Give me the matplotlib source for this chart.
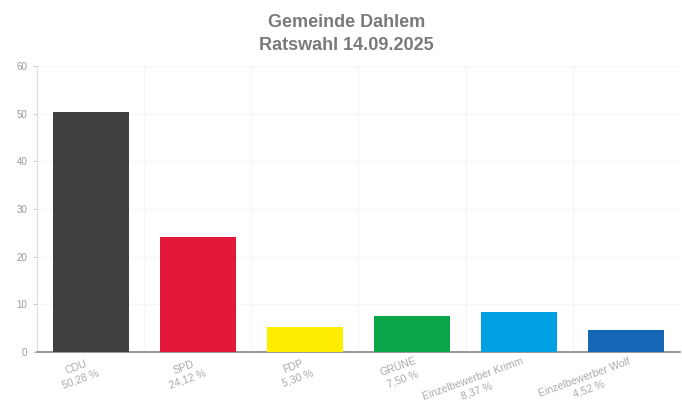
import matplotlib
matplotlib.use("Agg")
import matplotlib.pyplot as plt
import matplotlib.transforms as mtrans
from matplotlib.font_manager import FontProperties
import numpy as np

parties = ["CDU", "SPD", "FDP", "GRÜNE", "Einzelbewerber Krimm", "Einzelbewerber Wolf"]
values = [50.28, 24.12, 5.30, 7.50, 8.37, 4.52]
pct_labels = ["50,28 %", "24,12 %", "5,30 %", "7,50 %", "8,37 %", "4,52 %"]
colors = ["#404040", "#E3173A", "#FFED00", "#0AA547", "#00A0E2", "#1566B5"]
yticks = [0, 10, 20, 30, 40, 50, 60]

plt.rcParams['font.family'] = ['Liberation Sans', 'DejaVu Sans']

DPI = 100
fig = plt.figure(figsize=(6.82, 4.04), dpi=DPI)
ax = fig.add_axes([0.0543, 0.1287, 0.9427, 0.7079])

x = np.arange(len(parties))
ax.bar(x, values, width=0.71, color=colors, zorder=3)

ax.set_xlim(-0.5, len(parties) - 0.5)
ax.set_ylim(0, 60)
ax.set_yticks(yticks)
ax.set_yticklabels([str(t) for t in yticks], color="#999999", fontsize=7)

# faint grid
for b in np.arange(0.5, len(parties) - 0.5, 1):
    ax.axvline(b, color="#f6f6f6", lw=1, zorder=0)
for t in yticks[1:]:
    ax.axhline(t, color="#f6f6f6", lw=1, zorder=0)

ax.set_xticks(x)
ax.set_xticklabels([])
ax.tick_params(axis="x", length=0)
ax.tick_params(axis="y", length=3, color="#cccccc", pad=4)

# rotated two-line category labels (name + percentage), centred on each other
fsize = 7.6
rot = 20.0
fp = FontProperties(family=['Liberation Sans', 'DejaVu Sans'], size=fsize)
renderer = fig.canvas.get_renderer()
line_h = fsize * 1.2 * DPI / 72.0
c, s = np.cos(np.radians(rot)), np.sin(np.radians(rot))
anchor_dx, anchor_dy = 2.0, -4.0  # pixels from tick position on the axis line
base = ax.get_xaxis_transform()
for i, (name, pct) in enumerate(zip(parties, pct_labels)):
    wn, _, _ = renderer.get_text_width_height_descent(name, fp, ismath=False)
    wp, _, _ = renderer.get_text_width_height_descent(pct, fp, ismath=False)
    wb = max(wn, wp)
    for k, txt in enumerate([name, pct]):
        lx, ly = -wb / 2.0, -k * line_h
        dx = anchor_dx + lx * c - ly * s
        dy = anchor_dy + lx * s + ly * c
        tr = base + mtrans.ScaledTranslation(dx / DPI, dy / DPI, fig.dpi_scale_trans)
        ax.text(i, 0, txt, transform=tr, rotation=rot, rotation_mode="anchor",
                ha="center", va="top", fontproperties=fp, color="#aaaaaa",
                clip_on=False)

for sp in ["top", "right"]:
    ax.spines[sp].set_visible(False)
ax.spines["left"].set_color("#dddddd")
ax.spines["bottom"].set_color("#888888")
ax.spines["bottom"].set_linewidth(1.2)

fig.text(0.508, 0.945, "Gemeinde Dahlem", ha="center", va="center",
         fontsize=13, fontweight="bold", color="#7a7a7a")
fig.text(0.508, 0.888, "Ratswahl 14.09.2025", ha="center", va="center",
         fontsize=13, fontweight="bold", color="#7a7a7a")

fig.savefig("out.png", dpi=DPI)
